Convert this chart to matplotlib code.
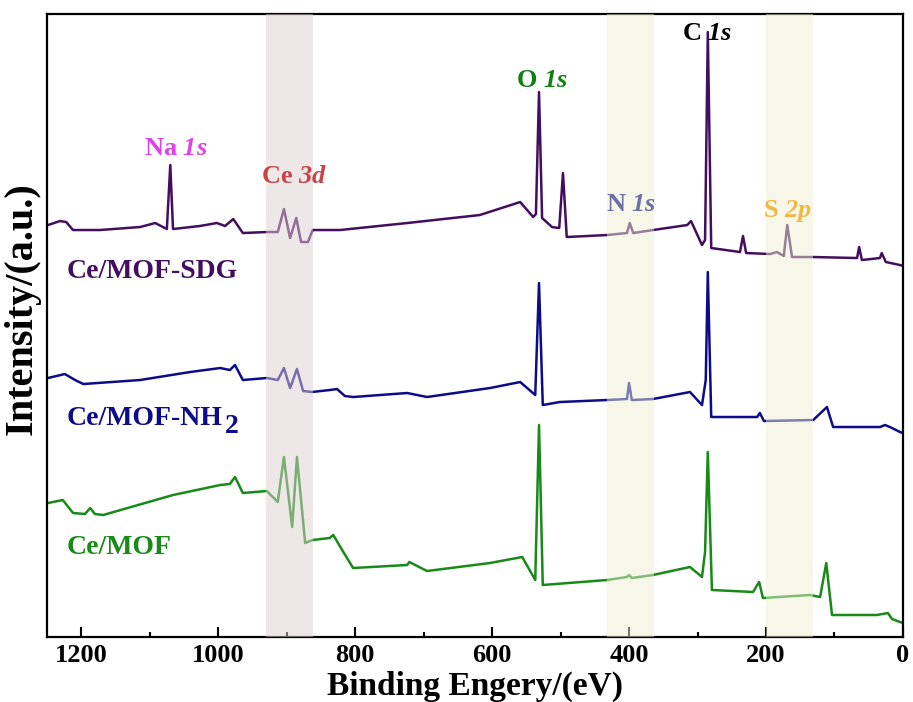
import matplotlib
matplotlib.use("Agg")
import matplotlib.pyplot as plt
from matplotlib.ticker import MultipleLocator

plt.rcParams['font.family'] = ['Liberation Serif', 'DejaVu Serif']
plt.rcParams['font.weight'] = 'bold'
plt.rcParams['mathtext.fontset'] = 'custom'
plt.rcParams['mathtext.rm'] = 'Liberation Serif:bold'
plt.rcParams['mathtext.it'] = 'Liberation Serif:italic:bold'
plt.rcParams['mathtext.bf'] = 'Liberation Serif:bold'
plt.rcParams['mathtext.sf'] = 'Liberation Serif:italic:bold'

# ---------------- data (binding energy in eV, intensity in a.u.) ----------------
sdg_be = [1248.5, 1231, 1222, 1212, 1173, 1114, 1092, 1075, 1070, 1066, 1027, 1002, 990, 978, 964,
          929, 913, 904, 895, 886, 879, 869, 862, 822, 724, 618, 559, 540, 536, 531.5, 527, 512.5,
          502, 496.5, 491, 432, 403, 399, 394, 365, 315, 309.5, 293.5, 289, 285, 280, 238, 233.6,
          229, 194, 184, 174, 169, 162, 131, 67, 64, 60, 33.6, 31, 25, 4.3, 0]
sdg_int = [412, 416, 415, 407, 407, 410, 414, 408, 472, 408, 411, 414, 411, 418, 404,
           405, 405, 428, 399, 419, 395, 395, 407, 407, 414, 422, 435, 420, 423, 545, 419, 410,
           409, 464, 400, 402, 404, 414, 404, 407, 412, 416, 392, 397, 605, 389, 385, 401,
           384, 383, 385, 381, 412, 380, 380, 379, 390, 377, 379, 384, 375, 372, 371]

nh2_be = [1248.5, 1224, 1209, 1197, 1114, 1041, 997, 983, 975.5, 964, 929, 913, 904, 895, 885,
          876, 863, 837, 826.5, 815, 803, 724, 695, 603, 559, 537, 531.5, 526, 501, 432, 403, 400,
          396, 365, 311, 293.5, 288, 285, 280, 213, 209, 203, 131, 111, 102, 33.6, 26, 16, 4.3, 0]
nh2_int = [259, 263, 257, 253, 257, 265, 269, 267, 272, 257, 259, 257, 269, 249, 268,
           246, 245, 247, 248, 241, 240, 244, 240, 249, 255, 242, 354, 232, 235, 237, 238, 254,
           237, 238, 245, 232, 257, 365, 220, 220, 224, 216, 217, 230, 210, 210, 212, 209, 205, 204]

mof_be = [1248.5, 1227, 1212, 1194.5, 1187, 1180, 1168, 1066, 997, 983, 975.5, 964, 929, 913, 904,
          892, 885, 873, 862, 837, 832, 819, 803, 724, 721, 695, 603, 556, 537, 531.5, 526, 432,
          403, 400, 396, 365, 311, 293.5, 289, 285, 279, 219, 210, 204.5, 136, 121, 112, 103.6,
          38, 22, 16, 4.3, 0]
mof_int = [134, 137, 124, 123, 129, 123, 122, 142, 152, 153, 160, 144, 146, 135, 180,
           110, 180, 94, 97, 99, 102, 87, 69, 72, 75, 66, 74, 80, 57, 212, 52, 57,
           60, 62, 59, 62, 70, 60, 85, 185, 47, 45, 55, 39, 42, 40, 74, 22,
           22, 24, 18, 15, 14]

series_names = ['Ce/MOF-SDG', 'Ce/MOF-NH', 'Ce/MOF']
series_subscripts = ['', '2', '']
series_colors = ['#430e5f', '#0c0c8a', '#178a17']
series_label_be = [1221, 1221, 1221]
series_label_int = [366, 219, 90]

peak_labels = ['Na $\\mathsf{1s}$', 'Ce $\\mathsf{3d}$', 'O $\\mathsf{1s}$',
               'N $\\mathsf{1s}$', 'C $\\mathsf{1s}$', 'S $\\mathsf{2p}$']
peak_label_be = [1062, 889, 527, 397, 286, 168]
peak_label_int = [489, 461, 557, 433, 604, 426]
peak_label_colors = ['#e040eb', '#c84444', '#108010', '#6e6ea8', '#000000', '#f0b848']

band_lo = [862, 364, 132]
band_hi = [930, 432, 200]
band_colors = ['#dfd1d1', '#efefd5', '#efefd5']

x_ticks = [1200, 1000, 800, 600, 400, 200, 0]

# ---------------- figure ----------------
fig = plt.figure(figsize=(9.13, 7.02), dpi=100)
ax = fig.add_axes([0.0515, 0.0926, 0.9375, 0.8874])

for be, inten, c in zip([sdg_be, nh2_be, mof_be], [sdg_int, nh2_int, mof_int], series_colors):
    ax.plot(be, inten, color=c, lw=1.8, zorder=2)

for lo, hi, c in zip(band_lo, band_hi, band_colors):
    ax.axvspan(lo, hi, color=c, alpha=0.5, lw=0, zorder=3)

for name, sub, c, bx, by in zip(series_names, series_subscripts, series_colors,
                                series_label_be, series_label_int):
    t = ax.text(bx, by, name, color=c, fontsize=20, fontweight='bold',
                ha='left', va='center', zorder=5)
    if sub:
        ax.annotate(sub, xy=(1, 0), xycoords=t, xytext=(1.5, -6), textcoords='offset points',
                    color=c, fontsize=20, fontweight='bold', ha='left', va='bottom', zorder=5)

for lab, bx, by, c in zip(peak_labels, peak_label_be, peak_label_int, peak_label_colors):
    ax.text(bx, by, lab, color=c, fontsize=19, fontweight='bold', ha='center', va='center', zorder=5)

ax.set_xlim(1250, 0)
ax.set_ylim(0, 623)
ax.set_xticks(x_ticks)
ax.xaxis.set_minor_locator(MultipleLocator(100))
ax.set_yticks([])
ax.tick_params(axis='x', which='major', direction='in', length=7, width=1.5, labelsize=19, pad=5)
ax.tick_params(axis='x', which='minor', direction='in', length=3.5, width=1.5)
for lbl in ax.get_xticklabels():
    lbl.set_fontweight('bold')
for sp in ax.spines.values():
    sp.set_linewidth(1.6)

ax.set_xlabel('Binding Engery/(eV)', fontsize=24, fontweight='bold', labelpad=3)
ax.set_ylabel('Intensity/(a.u.)', fontsize=29, fontweight='bold')
ax.yaxis.set_label_coords(-0.007, 0.527)

fig.savefig('out.png', dpi=100)
